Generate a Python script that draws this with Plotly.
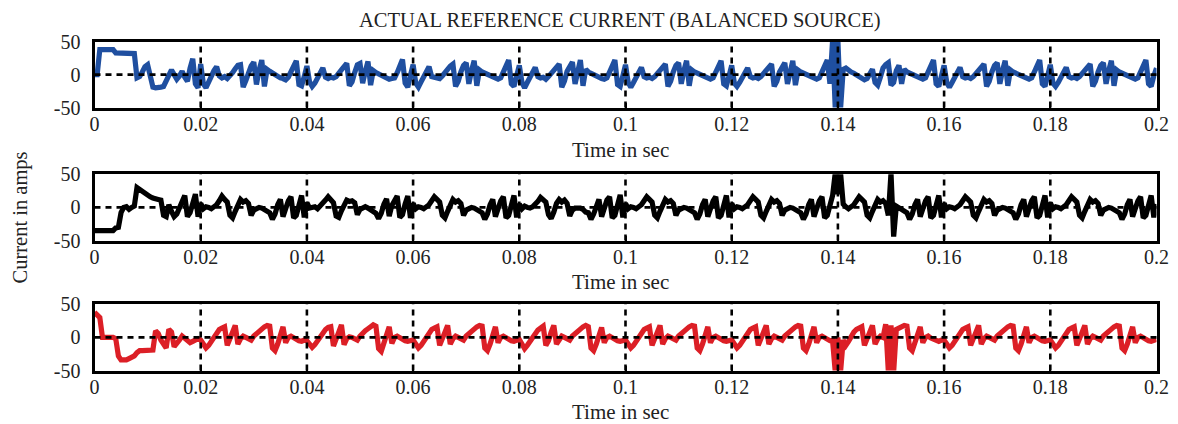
import plotly.graph_objects as go
from plotly.subplots import make_subplots

# ---------------- data ----------------
t_step = 0.0005

blue_current = [
    0, 0, 38, 38, 38, 38, 38, 38, 33, 33, 33, 33, 33, 33, 33, 32, -5, -3, 4, 12, 15, -6, -19, -20, -20, -19, -18, -8, 2, 7, 0, -7, -2, 5, -4, -10, 10, 24, -14, -20,
    16, -14, -20, -10, -2, 6, 12, -2, -5, -3, -6, -2, 3, 9, 14, 15, -19, -9, 5, 13, 19, -15, 7, 22, -18, 8, 5, 2, 1, -2, -5, -6, -8, -4, 5, 13, 21, -15, -17, -3,
    13, -11, -18, -13, -5, 4, 10, -4, -6, -4, -5, -3, 1, 7, 12, 17, -17, -11, 3, 15, 17, -13, 5, 20, -16, 6, 3, 1, 0, -3, -4, -7, -6, -5, 3, 15, 23, -13, -19, -1,
    15, -13, -19, -11, -3, 5, 12, -3, -4, -5, -6, -2, 2, 8, 13, 16, -18, -10, 4, 14, 18, -14, 6, 21, -17, 7, 4, 2, 0, -2, -4, -6, -7, -5, 4, 14, 22, -14, -18, -2,
    14, -12, -20, -12, -4, 6, 11, -3, -5, -4, -7, -3, 2, 9, 13, 16, -19, -10, 5, 14, 19, -14, 6, 22, -17, 8, 4, 3, 0, -2, -5, -6, -7, -5, 4, 14, 22, -15, -18, -2,
    15, -12, -19, -12, -4, 5, 11, -3, -5, -4, -6, -3, 2, 8, 13, 16, -18, -10, 4, 14, 18, -14, 6, 21, -17, 7, 4, 2, 0, -2, -4, -6, -7, -5, 4, 13, 21, -14, -17, -2,
    14, -13, -18, -12, -4, 5, 10, -3, -5, -4, -6, -3, 2, 8, 14, 16, -18, -10, 4, 13, 18, -14, 6, 21, -16, 7, 4, 2, 0, -2, -4, -6, -7, -5, 4, 14, 22, -14, 52, -52,
    52, -52, 8, 10, 6, 4, 2, 0, -2, -4, -8, -6, 2, 8, -12, -16, -4, 10, 15, 18, -16, -12, 6, 14, -14, 8, 4, 2, 0, -2, -4, -6, -7, -5, 4, 14, 22, -14, -18, -2,
    14, -12, -19, -12, -4, 5, 11, -3, -5, -4, -6, -3, 2, 8, 13, 16, -18, -10, 4, 14, 18, -14, 6, 21, -17, 7, 4, 2, 0, -2, -4, -6, -7, -5, 4, 14, 22, -14, -18, -2,
    15, -13, -18, -12, -4, 5, 11, -3, -5, -4, -6, -3, 2, 8, 13, 16, -18, -10, 4, 14, 18, -14, 6, 21, -17, 7, 4, 2, 0, -2, -4, -6, -7, -5, 4, 14, 22, -14, -18, -2,
    10,
]

black_current = [
    -35, -35, -35, -35, -35, -35, -35, -35, -31, -30, -8, 0, 1, -3, 0, 2, 30, 27, 23, 21, 19, 16, 14, 12, 12, 11, -12, -14, 4, -6, -14, -10, 0, 8, 18, -14, -8, 6, 20, -14,
    6, -2, 1, 0, -2, 1, 4, 10, 17, 12, 8, -12, -16, -6, 6, 12, 8, 10, 6, -12, -4, -2, 0, -1, -3, -6, -8, -18, -10, 4, 12, -14, 2, 10, 16, -16, -12, 6, 18, -15,
    7, -1, 0, 1, -2, 2, 5, 11, 16, 11, 7, -13, -15, -5, 5, 11, 9, 10, 7, -11, -3, -2, 1, -1, -4, -6, -9, -17, -9, 5, 13, -13, 3, 10, 17, -15, -11, 5, 17, -16,
    6, -2, 1, 0, -2, 1, 4, 10, 16, 12, 8, -12, -16, -6, 6, 12, 8, 10, 6, -12, -4, -2, 0, -1, -3, -6, -8, -18, -10, 4, 12, -14, 2, 10, 16, -16, -12, 6, 18, -15,
    5, -2, 2, 0, -1, 1, 4, 9, 15, 12, 8, -11, -17, -7, 6, 12, 8, 11, 6, -13, -4, -1, 0, -1, -3, -7, -8, -18, -10, 4, 12, -14, 2, 11, 16, -16, -12, 6, 19, -15,
    6, -2, 1, 0, -2, 1, 4, 10, 16, 12, 8, -12, -16, -6, 6, 12, 8, 10, 6, -12, -4, -2, 0, -1, -3, -6, -8, -18, -10, 4, 12, -14, 2, 10, 16, -16, -12, 6, 18, -15,
    6, -2, 1, 0, -2, 1, 4, 10, 16, 12, 8, -12, -16, -6, 6, 12, 8, 10, 6, -12, -4, -2, 0, -1, -3, -6, -8, -18, -10, 4, 12, -14, 2, 10, 16, -16, -12, 6, 18, 52,
    20, 52, 5, 1, -2, 1, 4, 10, 16, 12, 8, -12, -16, -6, 6, 12, 8, 10, 6, -12, 52, -44, 2, -1, -3, -6, -8, -18, -10, 4, 12, -14, 2, 10, 16, -16, -12, 6, 18, -15,
    6, -2, 1, 0, -2, 1, 4, 10, 16, 12, 8, -12, -16, -6, 6, 12, 8, 10, 6, -12, -4, -2, 0, -1, -3, -6, -8, -18, -10, 4, 12, -14, 2, 10, 16, -16, -12, 6, 18, -15,
    7, -2, 1, 0, -2, 1, 4, 10, 16, 12, 8, -12, -16, -6, 6, 12, 8, 10, 6, -12, -4, -2, 0, -1, -3, -6, -8, -18, -10, 4, 12, -14, 2, 10, 16, -16, -12, 6, 18, -15,
    5,
]

red_current = [
    38, 33, 30, 0, 0, 0, 0, 0, -2, -28, -34, -35, -34, -32, -30, -28, -23, -20, -20, -20, -20, -20, -19, 10, 6, -4, -12, -16, 12, 8, -14, -10, -4, 2, -2, -6, -8, -6, -4, -2,
    -4, -10, -16, -12, -6, 2, 8, 12, 14, 16, -12, -4, 8, 18, -10, -2, 2, 0, -2, -4, 2, 6, 10, 14, 16, 18, 17, -16, -20, -10, 4, 16, -8, 0, 2, -1, -3, -5, -6, -4,
    -5, -11, -15, -11, -5, 3, 9, 12, 15, 16, -13, -4, 8, 19, -11, -2, 1, 0, -2, -4, 2, 7, 10, 13, 16, 19, 17, -17, -21, -10, 5, 16, -9, 0, 2, -1, -3, -5, -6, -4,
    -4, -10, -16, -12, -6, 2, 8, 12, 14, 16, -12, -4, 8, 18, -10, -2, 2, 0, -2, -4, 2, 6, 10, 14, 16, 18, 17, -16, -20, -10, 4, 16, -8, 0, 2, -1, -3, -5, -6, -4,
    -3, -10, -17, -12, -6, 2, 8, 11, 14, 17, -12, -5, 8, 18, -10, -2, 2, 0, -2, -4, 2, 6, 10, 14, 16, 18, 16, -16, -20, -10, 4, 15, -8, 0, 2, -1, -3, -5, -6, -4,
    -4, -10, -16, -12, -6, 2, 8, 12, 14, 16, -12, -4, 8, 18, -10, -2, 2, 0, -2, -4, 2, 6, 10, 14, 16, 18, 17, -16, -20, -10, 4, 16, -8, 0, 2, -1, -3, -5, -6, -4,
    -4, -10, -16, -12, -6, 2, 8, 12, 14, 16, -12, -4, 8, 18, -10, -2, 2, 0, -2, -4, 2, 6, 10, 14, 16, 18, 17, -16, -20, -10, 4, 16, -8, 0, 2, -1, -3, -5, -5, -52,
    0, -52, -4, -12, -6, 2, 8, 12, 14, 16, -12, -4, 8, 18, -10, -2, 2, 0, 20, -52, 18, -52, 12, 14, 16, 18, 17, -16, -20, -10, 4, 16, -8, 0, 2, -1, -3, -5, -6, -4,
    -4, -10, -16, -12, -6, 2, 8, 12, 14, 16, -12, -4, 8, 18, -10, -2, 2, 0, -2, -4, 2, 6, 10, 14, 16, 18, 17, -16, -20, -10, 4, 16, -8, 0, 2, -1, -3, -5, -6, -4,
    -4, -10, -16, -12, -6, 2, 8, 12, 14, 16, -12, -4, 8, 18, -10, -2, 2, 0, -2, -4, 2, 6, 10, 14, 16, 18, 17, -16, -20, -10, 4, 16, -8, 0, 2, -1, -3, -5, -6, -4,
    -3,
]

x_tick_vals = [0, 0.02, 0.04, 0.06, 0.08, 0.1, 0.12, 0.14, 0.16, 0.18, 0.2]
x_tick_text = ["0", "0.02", "0.04", "0.06", "0.08", "0.1", "0.12", "0.14", "0.16", "0.18", "0.2"]
y_tick_vals = [-50, 0, 50]
y_tick_text = ["-50", "0", "50"]

title_text = "ACTUAL REFERENCE CURRENT (BALANCED SOURCE)"
x_label = "Time in sec"
y_label = "Current in amps"

series = [
    ("Phase a", blue_current, "#1f4fa0"),
    ("Phase b", black_current, "#000000"),
    ("Phase c", red_current, "#dc1f26"),
]

# ---------------- figure ----------------
# The page body has an 8 px margin, so the figure is drawn 8 px smaller and
# every screen position below is converted from window pixels.
OFF = 8
W, H = 1178 - OFF, 424 - OFF
FONT = "Liberation Serif, Times New Roman, serif"
FS = 20


def px_x(X):
    return (X - OFF) / W


def px_y(Y):
    return 1 - (Y - OFF) / H


fig = make_subplots(rows=3, cols=1)

x_dom = [px_x(94.5), px_x(1156.5)]
y_px = [(41.7, 107.5), (174.3, 240.5), (304.3, 370.5)]

for i, (name, vals, col) in enumerate(series):
    tt = [k * t_step for k in range(len(vals))]
    fig.add_trace(
        go.Scatter(x=tt, y=vals, mode="lines", name=name,
                   line=dict(color=col, width=5.2), showlegend=False,
                   hoverinfo="skip"),
        row=i + 1, col=1,
    )
    xa = "xaxis" if i == 0 else f"xaxis{i + 1}"
    ya = "yaxis" if i == 0 else f"yaxis{i + 1}"
    top, bot = y_px[i]
    fig.layout[xa].update(
        domain=x_dom, range=[0, 0.2], tickvals=x_tick_vals, ticktext=x_tick_text,
        showgrid=False, zeroline=False, showline=True, mirror=True,
        linecolor="black", linewidth=3, ticks="inside", ticklen=5,
        tickwidth=1.5, tickcolor="black", automargin=False,
        tickfont=dict(family=FONT, size=FS, color="#222"),
        ticklabelstandoff=-4,
    )
    fig.layout[ya].update(
        domain=[px_y(bot), px_y(top)], range=[-50, 50],
        tickvals=y_tick_vals, ticktext=y_tick_text,
        showgrid=False, zeroline=False, showline=True, mirror=True,
        linecolor="black", linewidth=3, ticks="inside", ticklen=5,
        tickwidth=1.5, tickcolor="black", automargin=False,
        tickfont=dict(family=FONT, size=FS, color="#222"),
        ticklabelstandoff=7,
    )
    xref = "x" if i == 0 else f"x{i + 1}"
    yref = "y" if i == 0 else f"y{i + 1}"
    # dashed grid drawn over the curves, derived from the tick values
    for xv in x_tick_vals[1:-1]:
        fig.add_shape(type="line", xref=xref, yref=f"{yref} domain",
                      x0=xv, x1=xv, y0=0, y1=1, layer="above",
                      line=dict(color="black", width=2.6, dash="6px,5px"))
    fig.add_shape(type="line", xref=f"{xref} domain", yref=yref,
                  x0=0, x1=1, y0=0, y1=0, layer="above",
                  line=dict(color="black", width=2.6, dash="6px,5px"))

annotations = [
    dict(text=title_text, x=px_x(620), y=px_y(20.5), xref="paper", yref="paper",
         showarrow=False, font=dict(family=FONT, size=20.5, color="#222"),
         xanchor="center", yanchor="middle"),
    dict(text=y_label, x=px_x(19.5), y=px_y(218), xref="paper", yref="paper",
         showarrow=False, textangle=-90, font=dict(family=FONT, size=20.5, color="#222"),
         xanchor="center", yanchor="middle"),
]
for yc in (150, 282, 412):
    annotations.append(
        dict(text=x_label, x=px_x(620), y=px_y(yc), xref="paper", yref="paper",
             showarrow=False, font=dict(family=FONT, size=21, color="#222"),
             xanchor="center", yanchor="middle"))

fig.update_layout(
    width=W, height=H, margin=dict(l=0, r=0, t=0, b=0, autoexpand=False),
    paper_bgcolor="white", plot_bgcolor="white",
    annotations=annotations, showlegend=False,
)

fig.write_html("out.html")
